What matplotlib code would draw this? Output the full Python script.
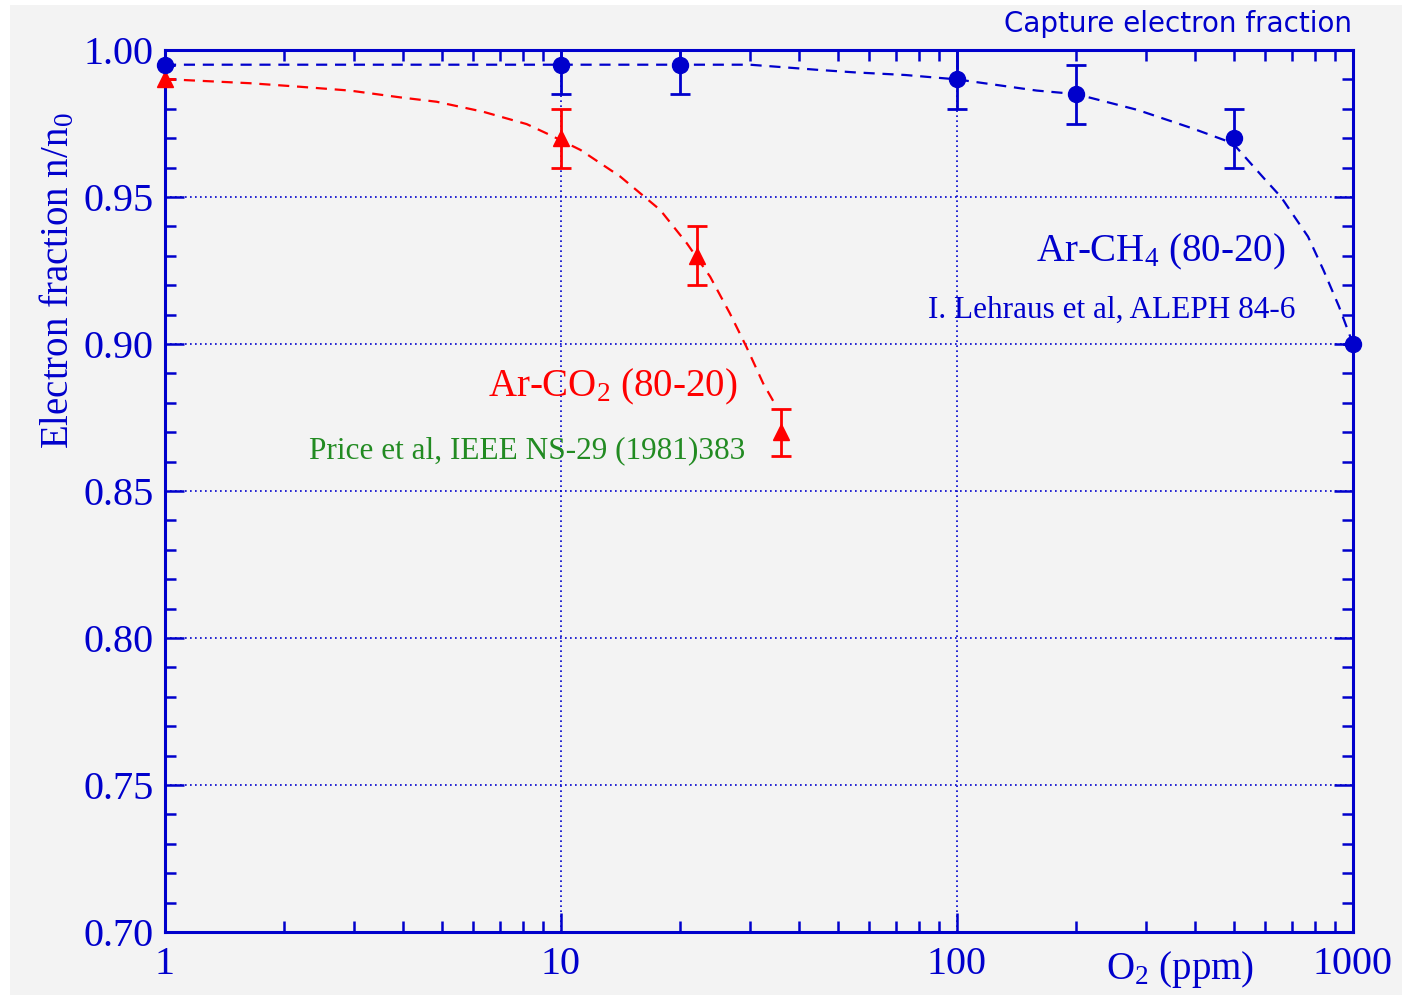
import matplotlib
matplotlib.use('Agg')
import matplotlib.pyplot as plt
from matplotlib.patches import Rectangle
from matplotlib.ticker import FixedLocator, NullFormatter, MultipleLocator, FormatStrFormatter

# fonts
plt.rcParams['font.family'] = ['Liberation Serif', 'DejaVu Serif']
plt.rcParams['mathtext.fontset'] = 'custom'
plt.rcParams['mathtext.rm'] = 'Liberation Serif'
plt.rcParams['mathtext.it'] = 'Liberation Serif:italic'

# Ar-CH4 data (I. Lehraus et al)
ch4_x = [1, 10, 20, 100, 200, 500, 1000]
ch4_y = [0.995, 0.995, 0.995, 0.990, 0.985, 0.970, 0.900]
ch4_err = [0, 0.01, 0.01, 0.01, 0.01, 0.01, 0]

# Ar-CO2 data (Price et al)
co2_x = [1, 10, 22, 36]
co2_y = [0.990, 0.970, 0.930, 0.870]
co2_err = [0, 0.01, 0.01, 0.008]

# dashed guide curves
ch4_fit_x = [1, 30, 45, 55, 74, 100, 159, 200, 286, 392, 497, 601, 658, 770, 843, 922, 1000]
ch4_fit_y = [0.995, 0.995, 0.9932, 0.9924, 0.9915, 0.990, 0.9862, 0.985, 0.9796, 0.9734,
             0.9683, 0.9558, 0.950, 0.9365, 0.925, 0.9127, 0.900]
co2_fit_x = [1, 1.11, 1.64, 2.19, 2.93, 3.92, 4.85, 6.36, 8.19, 9.38, 11.2, 14.1, 17.8,
             20.8, 23.8, 26.7, 29.4, 32.4, 35.0]
co2_fit_y = [0.990, 0.9898, 0.9887, 0.9875, 0.9862, 0.9839, 0.9824, 0.979, 0.9748, 0.9711,
             0.966, 0.957, 0.9456, 0.9342, 0.9229, 0.9104, 0.899, 0.8866, 0.8787]

x_ticks = [1, 10, 100, 1000]
x_ticklabels = ['1', '10', '100', '1000']

blue = '#0000cc'
red = '#ff0000'
green = '#228b22'
bg = '#f3f3f3'

fig = plt.figure(figsize=(14.1, 10), dpi=100, facecolor='white')
fig.patches.append(Rectangle((10 / 1410, 5 / 1000), 1392 / 1410, 990 / 1000,
                             transform=fig.transFigure, facecolor=bg, edgecolor='none', zorder=-10))
ax = fig.add_axes([165 / 1410, 68 / 1000, 1188 / 1410, 882 / 1000])
ax.set_facecolor(bg)

ax.set_xscale('log')
ax.set_xlim(1, 1000)
ax.set_ylim(0.70, 1.00)

# grid
ax.grid(True, which='major', color=blue, linestyle=(0, (1, 2)), linewidth=1.2)

# fit curves
ax.plot(ch4_fit_x, ch4_fit_y, color=blue, linestyle=(0, (5, 3.5)), linewidth=1.6, zorder=3)
ax.plot(co2_fit_x, co2_fit_y, color=red, linestyle=(0, (5, 3.5)), linewidth=1.6, zorder=3)

# error bars (clipped at the frame), markers drawn unclipped
ax.errorbar(ch4_x, ch4_y, yerr=ch4_err, fmt='none', ecolor=blue,
            capsize=7, elinewidth=2, capthick=2, zorder=5)
ax.errorbar(co2_x, co2_y, yerr=co2_err, fmt='none', ecolor=red,
            capsize=7, elinewidth=2, capthick=2, zorder=4)
ax.plot(ch4_x, ch4_y, 'o', color=blue, markersize=11.5, zorder=6, clip_on=False)
ax.plot(co2_x, co2_y, '^', color=red, markersize=12, zorder=5, clip_on=False)

# axes styling
for sp in ax.spines.values():
    sp.set_color(blue)
    sp.set_linewidth(2.2)
ax.xaxis.set_major_locator(FixedLocator(x_ticks))
ax.set_xticklabels(x_ticklabels)
ax.xaxis.set_minor_formatter(NullFormatter())
ax.yaxis.set_major_locator(MultipleLocator(0.05))
ax.yaxis.set_minor_locator(MultipleLocator(0.01))
ax.yaxis.set_major_formatter(FormatStrFormatter('%.2f'))
ax.tick_params(which='both', direction='in', top=True, right=True, colors=blue,
               labelcolor=blue, labelsize=29, width=1.8)
ax.tick_params(which='major', length=14)
ax.tick_params(which='minor', length=8)
ax.tick_params(axis='x', pad=10)
ax.tick_params(axis='y', pad=8)

ax.set_ylabel('Electron fraction n/n$_{\\mathrm{0}}$', color=blue, fontsize=28)
ax.yaxis.set_label_coords(-0.0735, 0.738)
fig.text(1180 / 1410, 1 - 970 / 1000, 'O$_{\\mathrm{2}}$ (ppm)', color=blue, fontsize=28,
         ha='center', va='center')

# annotations
fig.text(1352 / 1410, 1 - 24 / 1000, 'Capture electron fraction', color=blue,
         fontsize=20, family='DejaVu Sans', ha='right', va='center')
ax.text(13.5, 0.882, 'Ar-CO$_{\\mathrm{2}}$ (80-20)', color=red, fontsize=28,
        ha='center', va='baseline')
ax.text(8.23, 0.861, 'Price et al, IEEE NS-29 (1981)383', color=green, fontsize=22.5,
        ha='center', va='baseline')
ax.text(326, 0.928, 'Ar-CH$_{\\mathrm{4}}$ (80-20)', color=blue, fontsize=28,
        ha='center', va='baseline')
ax.text(246, 0.9088, 'I. Lehraus et al, ALEPH 84-6', color=blue, fontsize=22.5,
        ha='center', va='baseline')

fig.savefig('out.png', dpi=100, facecolor='white')
